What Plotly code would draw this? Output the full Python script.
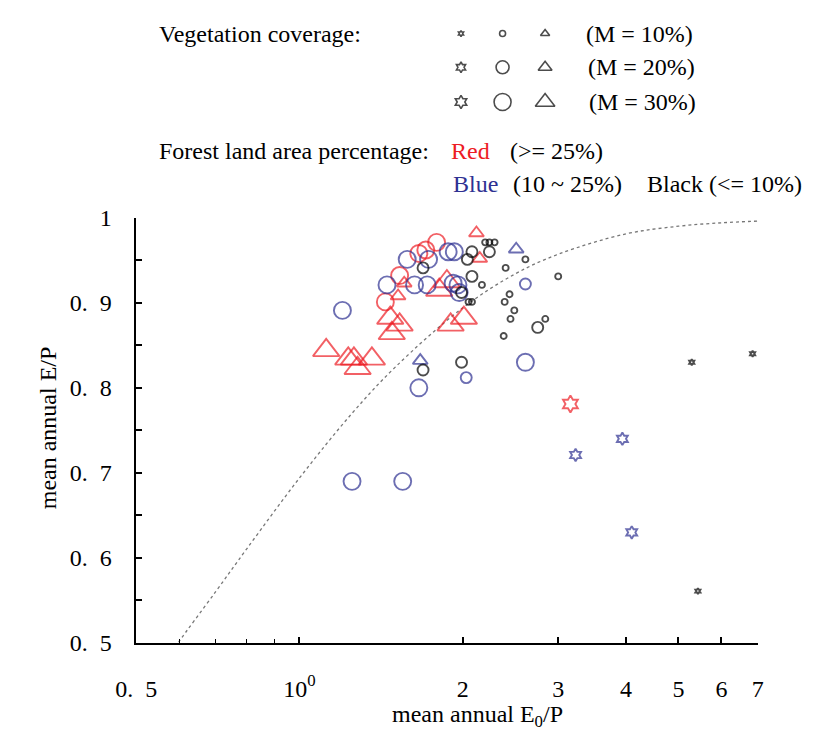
import math
import plotly.graph_objects as go

# ---------------- data ----------------
# x = mean annual E0/P, y = mean annual E/P, m = vegetation coverage M (%)
red_circle_x = [1.66, 1.71, 1.79, 1.53, 1.44]
red_circle_y = [0.958, 0.962, 0.971, 0.932, 0.901]
red_circle_m = [30, 30, 30, 30, 30]

red_tri_x = [2.12, 2.15, 1.56, 1.87, 1.81, 1.52, 1.47, 1.53, 1.48, 1.90, 2.01,
             1.12, 1.23, 1.26, 1.36, 1.28]
red_tri_y = [0.982, 0.952, 0.923, 0.925, 0.915, 0.908, 0.882, 0.874, 0.864, 0.874, 0.882,
             0.844, 0.834, 0.834, 0.834, 0.823]
red_tri_m = [20, 20, 20, 30, 30, 20, 30, 30, 30, 30, 30,
             30, 30, 30, 30, 30]

red_star_x = [3.16]
red_star_y = [0.781]
red_star_m = [30]

blue_circle_x = [1.58, 1.73, 1.88, 1.93, 1.45, 1.63, 1.72, 1.92, 1.96, 1.97,
                 1.20, 2.61, 2.61, 2.03, 1.66, 1.25, 1.55]
blue_circle_y = [0.951, 0.951, 0.960, 0.960, 0.921, 0.921, 0.921, 0.923, 0.921, 0.912,
                 0.891, 0.922, 0.830, 0.812, 0.800, 0.690, 0.690]
blue_circle_m = [30, 30, 30, 30, 30, 30, 30, 30, 30, 30,
                 30, 20, 30, 20, 30, 30, 30]

blue_tri_x = [2.51, 1.67]
blue_tri_y = [0.963, 0.832]
blue_tri_m = [20, 20]

blue_star_x = [3.94, 3.23, 4.10]
blue_star_y = [0.740, 0.721, 0.630]
blue_star_m = [20, 20, 20]

black_circle_x = [2.20, 2.24, 2.29, 2.08, 2.24, 2.04, 2.61, 1.69, 2.40, 2.08, 3.00, 2.17,
                  1.99, 2.44, 2.05, 2.08, 2.39, 2.49, 2.45, 2.84, 2.75, 2.38, 1.69, 1.99]
black_circle_y = [0.971, 0.971, 0.971, 0.960, 0.960, 0.951, 0.951, 0.941, 0.941, 0.931, 0.931, 0.921,
                  0.912, 0.910, 0.901, 0.901, 0.901, 0.891, 0.881, 0.881, 0.871, 0.861, 0.821, 0.830]
black_circle_m = [10, 10, 10, 20, 20, 20, 10, 20, 10, 20, 10, 10,
                  20, 10, 10, 10, 10, 10, 10, 10, 20, 10, 20, 20]

black_star_x = [5.29, 6.85, 5.43]
black_star_y = [0.830, 0.840, 0.561]
black_star_m = [10, 10, 10]

# reference (Budyko-type) curve
curve_x = [0.59, 0.6, 0.7, 0.8, 1.0, 1.25, 1.5, 2.0, 2.5, 3.0, 4.0, 5.0, 6.0, 7.0]
curve_y = [0.495, 0.502, 0.560, 0.611, 0.694, 0.770, 0.824, 0.894, 0.934, 0.957, 0.981, 0.990, 0.994, 0.996]

x_tickvals = [0.5, 1, 2, 3, 4, 5, 6, 7]
x_ticktext = ["0.\u20025", "10<sup>0</sup>", "2", "3", "4", "5", "6", "7"]
x_minor = [0.6, 0.7, 0.8, 0.9]
y_tickvals = [0.5, 0.6, 0.7, 0.8, 0.9, 1.0]
y_ticktext = ["0.\u20025", "0.\u20026", "0.\u20027", "0.\u20028", "0.\u20029", "1"]
y_minor = [0.55, 0.65, 0.75, 0.85, 0.95]

legend_rows = ["(M = 10%)", "(M = 20%)", "(M = 30%)"]
legend_m = [10, 20, 30]

# ---------------- styles / geometry ----------------
RED = "#ed1c24"
BLUE = "#2e3192"
BLACK = "#000000"
FONT = "Liberation Serif"
PAGE_W, PAGE_H = 813, 736
OFF = 8                       # default body margin of the html page
W, H = PAGE_W - OFF, PAGE_H - OFF
# plot frame in page pixels
PX_L, PX_R, PX_T, PX_B = 119, 762, 212, 653

SYM = {"circle": "circle-open", "tri": "triangle-up-open", "star": "hexagram-open"}
SIZE = {
    "circle": {10: 6, 20: 11, 30: 17},
    "tri": {10: 8, 20: 13, 30: 23},
    "star": {10: 4.5, 20: 9.5, 30: 13},
}
LEG_SIZE = {
    "circle": {10: 6, 20: 13, 30: 17},
    "tri": {10: 8, 20: 12, 30: 17},
    "star": {10: 4.5, 20: 8, 30: 10},
}

fig = go.Figure()

fig.add_trace(go.Scatter(
    x=curve_x, y=curve_y, mode="lines",
    line=dict(color="#777777", width=1.3, dash="dot", shape="spline"),
    hoverinfo="skip", showlegend=False))

groups = [
    (red_circle_x, red_circle_y, red_circle_m, "circle", RED),
    (red_tri_x, red_tri_y, red_tri_m, "tri", RED),
    (red_star_x, red_star_y, red_star_m, "star", RED),
    (blue_circle_x, blue_circle_y, blue_circle_m, "circle", BLUE),
    (blue_tri_x, blue_tri_y, blue_tri_m, "tri", BLUE),
    (blue_star_x, blue_star_y, blue_star_m, "star", BLUE),
    (black_circle_x, black_circle_y, black_circle_m, "circle", BLACK),
    (black_star_x, black_star_y, black_star_m, "star", BLACK),
]
for gx, gy, gm, shape, col in groups:
    fig.add_trace(go.Scatter(
        x=gx, y=gy, mode="markers", showlegend=False, cliponaxis=False,
        marker=dict(symbol=SYM[shape], size=[SIZE[shape][m] for m in gm],
                    color=col, line=dict(color=col, width=1.9))))

# ---------------- legend block (overlay axes in page pixels) ----------------
leg_cols = {"star": 455, "circle": 498, "tri": 542}
leg_row_y = [21, 56, 92]
for shape, cx in leg_cols.items():
    fig.add_trace(go.Scatter(
        x=[cx] * 3, y=leg_row_y, xaxis="x2", yaxis="y2", mode="markers", showlegend=False,
        hoverinfo="skip", cliponaxis=False,
        marker=dict(symbol=SYM[shape], size=[LEG_SIZE[shape][m] for m in legend_m],
                    color=BLACK, line=dict(color=BLACK, width=1.6))))

TF = dict(family=FONT, size=24, color="black")
ann = []


def txt(x, y, s, color="black", size=24):
    ann.append(dict(x=x, y=y, xref="x2", yref="y2", text=s, showarrow=False,
                    xanchor="left", yanchor="middle",
                    font=dict(family=FONT, size=size, color=color)))


txt(140, 21, "Vegetation coverage:")
for ry, lab, lx in zip(leg_row_y, legend_rows, [582, 584, 585]):
    txt(lx, ry, lab)
txt(140, 143, "Forest land area percentage:")
txt(443, 143, "Red", RED)
txt(504, 143, "(&gt;= 25%)")
txt(445, 177, "Blue", BLUE)
txt(507, 177, "(10 ~ 25%)")
txt(645, 177, "Black (&lt;= 10%)")

# axis titles
ann.append(dict(x=472, y=729, xref="x2", yref="y2", text="mean annual E<sub>0</sub>/P",
                showarrow=False, xanchor="center", yanchor="middle", font=TF))
ann.append(dict(x=28, y=430, xref="x2", yref="y2", text="mean annual E/P", textangle=-90,
                showarrow=False, xanchor="center", yanchor="middle", font=TF))

axis_common = dict(showgrid=False, zeroline=False, showline=True, linecolor="black", linewidth=1.5,
                   ticks="inside", tickcolor="black", tickwidth=1.5, ticklen=6,
                   tickfont=dict(family=FONT, size=24, color="black"))

fig.update_layout(
    width=W, height=H, autosize=False,
    margin=dict(l=0, r=0, t=0, b=0),
    paper_bgcolor="white", plot_bgcolor="rgba(0,0,0,0)",
    showlegend=False,
    annotations=ann,
    xaxis=dict(type="log", range=[math.log10(0.5), math.log10(7)],
               domain=[(PX_L - OFF) / W, (PX_R - OFF) / W], tickmode="array",
               tickvals=x_tickvals, ticktext=x_ticktext, ticklabelstandoff=23,
               minor=dict(tickmode="array", tickvals=x_minor, ticks="inside", ticklen=4,
                          tickcolor="black", tickwidth=1.2),
               **axis_common),
    yaxis=dict(range=[0.5, 1.0], domain=[(OFF + H - PX_B) / H, (OFF + H - PX_T) / H],
               tickmode="array", tickvals=y_tickvals, ticktext=y_ticktext, ticklabelstandoff=18,
               minor=dict(tickmode="array", tickvals=y_minor, ticks="inside", ticklen=6,
                          tickcolor="black", tickwidth=1.5),
               **axis_common),
    xaxis2=dict(domain=[0, 1], range=[OFF, OFF + W], visible=False, anchor="y2", fixedrange=True),
    yaxis2=dict(domain=[0, 1], range=[OFF + H, OFF], visible=False, anchor="x2", fixedrange=True),
)

fig.write_html("out.html")
